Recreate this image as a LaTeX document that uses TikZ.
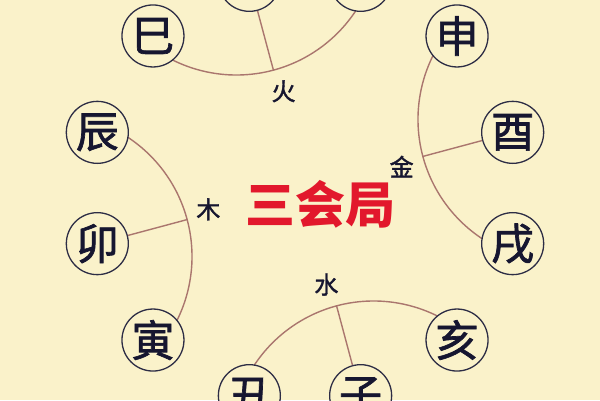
\documentclass[tikz,border=0pt]{standalone}
\usepackage{fontspec}
\newfontfamily\cjk{Noto Sans CJK SC}
\newfontfamily\cjkm[FakeBold=1.6]{Noto Sans CJK SC}
\usetikzlibrary{calc}
\definecolor{bg}{RGB}{250,242,202}
\definecolor{arcc}{RGB}{170,118,110}
\definecolor{ink}{RGB}{22,22,48}
\definecolor{titlered}{RGB}{226,24,44}
\begin{document}
\begin{tikzpicture}[x=1pt,y=1pt,
  branch/.style={circle, draw=ink!90, line width=1.3pt, fill=bg, minimum size=62pt, inner sep=0pt, font=\cjkm\fontsize{43}{43}\selectfont, text=ink},
  link/.style={draw=arcc, line width=1.4pt},
  elem/.style={font=\cjkm\fontsize{24}{24}\selectfont, text=ink, inner sep=0pt},
  title/.style={font=\cjk\bfseries\fontsize{50}{50}\selectfont, text=titlered, inner sep=0pt}]
\useasboundingbox (0,0) rectangle (600,400);
\fill[bg] (0,0) rectangle (600,400);
\clip (0,0) rectangle (600,400);
\coordinate (O) at (305,212);
% arcs of the four groups
\foreach \t/\n in {195/wood,105/fire,15/metal,-75/water}{
  \coordinate (\n C) at ($(O)+(\t:265)$);
  \coordinate (\n S) at ($(O)+(\t:122)$);
  \coordinate (\n A) at ($(\n C)+(\t+180-53.7:143)$);
  \draw[link] (\n A) arc[start angle=\t+180-53.7, end angle=\t+180+53.7, radius=143];
}
% branches
\node[branch] (si)   at ($(O)+(135:215)$) {巳};
\node[branch] (wu)   at ($(O)+(105:215)$) {};
\node[branch] (wei)  at ($(O)+(75:215)$)  {};
\node[branch] (shen) at ($(O)+(45:215)$)  {申};
\node[branch] (you)  at ($(O)+(15:215)$)  {酉};
\node[branch] (xu)   at ($(O)+(-15:215)$) {戌};
\node[branch] (hai)  at ($(O)+(-45:215)$) {亥};
\node[branch] (zi)   at ($(O)+(-75:215)$) {子};
\node[branch] (chou) at ($(O)+(-105:215)$) {丑};
\node[branch] (yin)  at ($(O)+(-135:215)$) {寅};
\node[branch] (mao)  at ($(O)+(195:215)$) {卯};
\node[branch] (chen) at ($(O)+(165:215)$) {辰};
% spokes
\draw[link] (mao) -- (woodS);
\draw[link] (wu) -- (fireS);
\draw[link] (you) -- (metalS);
\draw[link] (zi) -- (waterS);
% element labels
\node[elem] (mu)   at ($(O)+(192.5:99)$) {木};
\node[elem] (huo)  at ($(O)+(102.5:99)$) {火};
\node[elem] (jin)  at ($(O)+(12.5:99)$)  {金};
\node[elem] (shui) at ($(O)+(-77.5:99)$) {水};
% title
\node[title] (ttl) at (320,196) {三会局};
\end{tikzpicture}
\end{document}
